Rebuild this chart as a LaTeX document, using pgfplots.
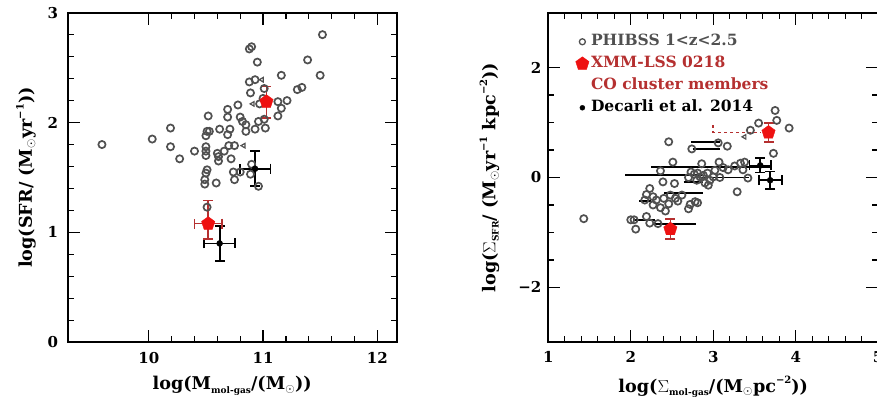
\documentclass[border=0pt]{standalone}
\usepackage{pgfplots}
\pgfplotsset{compat=1.18}
\usepackage{fontspec}
\setmainfont{DejaVu Serif}
\usetikzlibrary{plotmarks}
\definecolor{phgray}{HTML}{505050}
\definecolor{xred}{HTML}{EE1111}
\definecolor{xdred}{HTML}{B53030}
\newcommand{\sub}[1]{\raisebox{-0.35ex}{\fontsize{9}{9}\selectfont #1}}
\newcommand{\sups}[1]{\raisebox{0.9ex}{\fontsize{10}{10}\selectfont #1}}
\newcommand{\labfont}{\bfseries\fontsize{17.6}{17.6}\selectfont}
\pgfplotsset{
  myaxis/.style={
    scale only axis, anchor=south west,
    axis line style={line width=1.8pt},
    tick style={line width=1.3pt, black},
    major tick length=12pt, minor tick length=6pt,
    tick align=inside,
    tick label style={font=\bfseries\fontsize{15}{15}\selectfont},
    /pgf/number format/assume math mode=true,
    every axis x label/.style={at={(axis description cs:0.5,0)}, anchor=north, inner sep=0pt, yshift=-34pt, font=\labfont},
  },
  phib/.style={only marks, mark=o, mark size=3.6pt, mark options={draw=phgray, line width=1.7pt}},
  tri/.style={only marks, mark=triangle, mark size=2.6pt, mark options={draw=phgray, line width=1.2pt, rotate=90}},
  redpt/.style={only marks, mark=pentagon*, mark size=7pt, mark options={fill=xred, draw=xred},
     error bars/.cd, x dir=both, x explicit, y dir=both, y explicit,
     error bar style={line width=1.6pt, xdred}, error mark options={rotate=90, mark size=5pt, line width=1.6pt, xdred}},
  blkpt/.style={only marks, mark=*, mark size=3pt, black,
     error bars/.cd, x dir=both, x explicit, y dir=both, y explicit,
     error bar style={line width=1.8pt, black}, error mark options={rotate=90, mark size=5pt, line width=1.8pt, black}},
  hbar/.style={black, line width=1.8pt, mark=none},
  pointlegend/.style={legend image code/.code={\draw[##1] plot coordinates {(0pt,0pt)};}},
}
\begin{document}
\begin{tikzpicture}
% ---------------- left panel
\begin{axis}[myaxis, at={(67.7pt,55.7pt)}, width=329pt, height=329.6pt,
  xmin=9.29, xmax=12.17, ymin=0, ymax=3,
  xtick={10,11,12}, ytick={0,1,2,3}, minor x tick num=4, minor y tick num=4,
  yticklabel style={xshift=-6pt}, xticklabel style={yshift=-7pt},
  every axis y label/.style={at={(axis description cs:0,0.5)}, rotate=90, anchor=south, inner sep=0pt, yshift=31.7pt, font=\labfont},
  xlabel={log(M\sub{mol-gas}/(M$_\odot$))},
  ylabel={log(SFR/ (M$_\odot$yr\sups{−1}))}]
\addplot[phib] coordinates {
(9.59,1.80) (10.03,1.85) (10.19,1.95) (10.19,1.78) (10.27,1.67) (10.40,1.74)
(10.52,2.06) (10.51,1.92) (10.53,1.92) (10.50,1.88) (10.50,1.78) (10.50,1.74)
(10.50,1.70) (10.51,1.57) (10.50,1.54) (10.49,1.48) (10.49,1.44) (10.51,1.23)
(10.59,1.45) (10.60,1.72) (10.61,1.69) (10.61,1.65) (10.62,1.94) (10.66,1.74)
(10.69,2.12) (10.69,2.05) (10.71,1.94) (10.69,1.89) (10.70,1.79) (10.75,1.79)
(10.72,1.67) (10.74,1.55) (10.75,1.48) (10.78,2.16) (10.80,2.05) (10.82,2.01)
(10.85,1.98) (10.85,1.92) (10.80,1.55) (10.88,2.67) (10.90,2.69) (10.88,2.37)
(10.89,2.27) (10.93,2.39) (10.95,2.55) (10.93,1.94) (10.90,1.62) (10.89,1.53)
(10.96,1.42) (10.96,2.01) (11.00,2.22) (11.01,2.31) (11.02,1.95) (11.01,2.03)
(10.97,2.17) (11.13,2.06) (11.13,2.19) (11.16,2.13) (11.16,2.43) (11.21,2.20)
(11.30,2.30) (11.34,2.32) (11.39,2.57) (11.50,2.43) (11.52,2.80)
};
\addplot[tri] coordinates {(10.83,1.79) (10.91,2.17) (10.99,2.39)};
\addplot[blkpt] coordinates {(10.93,1.58) +- (0.135,0.16) (10.62,0.90) +- (0.135,0.16)};
\addplot[redpt] coordinates {(10.52,1.08) += (0.12,0.21) -= (0.12,0.14)};
\addplot[redpt] coordinates {(11.03,2.19) += (0,0.14) -= (0,0.15)};
\end{axis}
% ---------------- right panel
\begin{axis}[myaxis, at={(548.3pt,55.7pt)}, width=329.9pt, height=329.6pt,
  xmin=1, xmax=5, ymin=-3, ymax=3,
  xtick={1,2,3,4,5}, ytick={-2,0,2}, yticklabels={−2,0,2},
  minor x tick num=4, minor y tick num=3,
  yticklabel style={xshift=-3.5pt}, xticklabel style={yshift=-6pt},
  every axis y label/.style={at={(axis description cs:0,0.5)}, rotate=90, anchor=south, inner sep=0pt, yshift=48.8pt, font=\labfont},
  xlabel={log($\Sigma$\sub{mol-gas}/(M$_\odot$pc\sups{−2}))},
  ylabel={log($\Sigma$\sub{SFR}/ (M$_\odot$yr\sups{−1} kpc\sups{−2}))},
  legend style={at={(axis cs:1.33,2.62)}, anchor=north west, draw=none, fill=none, inner sep=0pt,
     row sep=6pt, column sep=2pt,
     nodes={inner sep=0pt, text height=12pt, text depth=4pt, font=\bfseries\fontsize{15.5}{15.5}\selectfont}},
  legend cell align=left]
\addlegendimage{pointlegend, mark=o, mark size=3pt, mark options={draw=phgray, line width=1.3pt}}
\addlegendentry{\textcolor{phgray}{PHIBSS 1<z<2.5}}
\addlegendimage{pointlegend, mark=pentagon*, mark size=7pt, mark options={fill=xred, draw=xred}}
\addlegendentry{\textcolor{xdred}{XMM-LSS 0218}}
\addlegendimage{empty legend}
\addlegendentry{\textcolor{xdred}{CO cluster members}}
\addlegendimage{pointlegend, mark=*, mark size=2.5pt, mark options={fill=black, draw=black}}
\addlegendentry{Decarli et al. 2014}
% horizontal error bars of PHIBSS
\addplot[hbar] coordinates {(2.73,0.65) (3.08,0.65)};
\addplot[hbar] coordinates {(2.75,0.52) (3.08,0.52)};
\addplot[hbar] coordinates {(2.25,0.19) (3.69,0.19)};
\addplot[hbar] coordinates {(1.93,0.05) (2.88,0.05)};
\addplot[hbar] coordinates {(2.75,0.00) (3.43,0.00)};
\addplot[hbar] coordinates {(2.64,-0.08) (2.88,-0.08)};
\addplot[hbar] coordinates {(2.40,-0.28) (2.88,-0.28)};
\addplot[hbar] coordinates {(2.10,-0.43) (2.25,-0.43)};
\addplot[hbar] coordinates {(2.03,-0.78) (2.29,-0.78)};
\addplot[hbar] coordinates {(2.27,-0.84) (2.79,-0.84)};
\addplot[phib] coordinates {
(1.43,-0.75) (2.00,-0.77) (2.04,-0.77) (2.06,-0.94) (2.19,-0.71) (2.23,-0.83) (2.33,-0.84)
(2.19,-0.31) (2.27,-0.35) (2.17,-0.41) (2.31,-0.41) (2.27,-0.50) (2.23,-0.20)
(2.40,-0.38) (2.48,-0.32) (2.54,-0.38) (2.62,-0.32) (2.57,-0.43) (2.46,-0.48) (2.36,-0.55) (2.42,-0.61)
(2.72,-0.49) (2.70,-0.57) (2.78,-0.44) (2.81,-0.46)
(2.36,0.12) (2.39,-0.08) (2.53,-0.11) (2.51,0.28) (2.46,0.65) (2.74,0.52) (3.06,0.63) (3.17,0.57) (3.73,0.44)
(2.73,0.10) (2.77,0.06) (2.81,0.08) (2.86,0.25) (2.84,0.01) (2.88,0.04) (2.93,0.08) (2.96,-0.05)
(2.90,-0.10) (2.94,-0.14) (3.00,0.01) (3.02,0.13) (3.07,0.28) (3.12,0.18) (3.18,0.14) (3.26,0.21)
(3.33,0.26) (3.38,0.28) (3.36,0.14) (3.42,-0.01) (3.08,0.00) (2.80,-0.05) (2.70,0.00)
(3.29,-0.26) (3.45,0.86) (3.55,0.99) (3.75,1.22) (3.77,1.04) (3.92,0.90)
};
\addplot[tri] coordinates {(3.38,0.74)};
\addplot[xdred, dashed, line width=1.6pt] coordinates {(3.0,0.95) (3.0,0.82) (3.57,0.82)};
\addplot[blkpt] coordinates {(3.57,0.22) +- (0.13,0.13) (3.69,-0.05) +- (0.14,0.16)};
\addplot[redpt] coordinates {(2.48,-0.94) +- (0,0.18)};
\addplot[redpt] coordinates {(3.67,0.82) +- (0,0.17)};
\end{axis}
\pgfresetboundingbox
\path[use as bounding box] (0,0) rectangle (877pt,398pt);
\end{tikzpicture}
\end{document}
